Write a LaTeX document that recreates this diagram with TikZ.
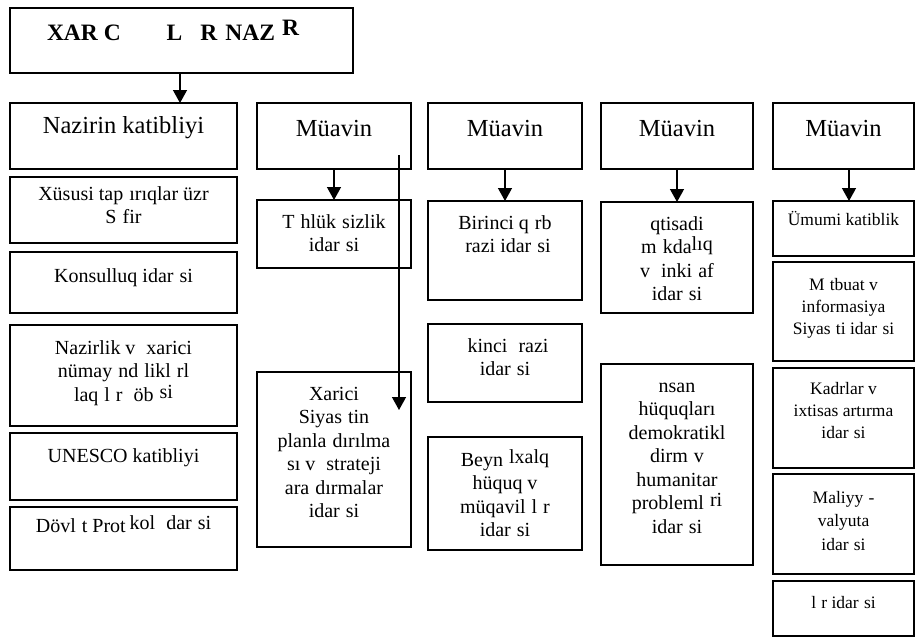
\documentclass[tikz,border=0pt]{standalone}
\usepackage{fontspec}
\setmainfont{Liberation Serif}
\usetikzlibrary{arrows.meta}
\newcommand\gp{\hspace{0.3em}}
\newcommand\up[1]{\raisebox{3pt}{#1}}
\newcommand\hd{\fontsize{24.5}{28}\selectfont}
\newcommand\sm{\fontsize{20}{23.5}\selectfont}
\newcommand\rs{\fontsize{17.5}{22}\selectfont}
\newcommand\rsw{\fontsize{17.5}{23.5}\selectfont}
% name, x1, y1, x2, y2, first baseline, font, text
\newcommand\obox[8]{%
  \node[obox, anchor=north west] (#1) at (#2,#3)
    {\parbox[b][\dimexpr#5pt-#3pt\relax][t]{\dimexpr#4pt-#2pt\relax}{\centering#7\rule{0pt}{#6pt}#8}};}
\tikzset{
  obox/.style={draw, line width=1.4pt, inner sep=0pt, outer sep=0pt},
  arr/.style={line width=1.4pt, -{Triangle[width=14pt,length=13pt]}}
}
\begin{document}
\begin{tikzpicture}[x=1pt,y=-1pt]
\useasboundingbox (0,0) rectangle (916,637);
% title
\node[obox, anchor=north west] (title) at (10,8)
  {\parbox[b][65pt][t]{343pt}{\raggedright\hspace*{37pt}\rule{0pt}{32pt}\fontsize{23.5}{26}\selectfont\bfseries XAR C\hspace{46pt}L\hspace{18pt}R\hspace{8pt}NAZ\hspace{7pt}\raisebox{5pt}{R}}};
% row of heads
\obox{nk}{10}{103}{237}{169}{30}{\hd}{Nazirin katibliyi}
\obox{m1}{257}{103}{411}{169}{33}{\hd}{Müavin}
\obox{m2}{428}{103}{582}{169}{33}{\hd}{Müavin}
\obox{m3}{601}{103}{753}{169}{33}{\hd}{Müavin}
\obox{m4}{773}{103}{914}{169}{33}{\hd}{Müavin}
% left column
\obox{xs}{10}{177}{237}{243}{23}{\sm}{Xüsusi tap\gp ırıqlar üzr\\S\gp fir}
\obox{ks}{10}{252}{237}{313}{30}{\sm}{Konsulluq idar\gp si}
\obox{nz}{10}{325}{237}{426}{29}{\sm}{Nazirlik v\gp\ xarici\\nümay\gp nd\gp likl\gp rl\\laq\gp l\gp r\gp\ öb\gp\up{si}}
\obox{un}{10}{433}{237}{500}{29}{\sm}{UNESCO katibliyi}
\obox{dv}{10}{507}{237}{570}{25}{\sm}{Dövl\gp t Prot\hspace{0.2em}\up{kol\ \gp dar\gp si}}
% column 1
\obox{th}{257}{200}{411}{268}{28}{\sm}{T\gp hlük\gp sizlik\\idar\gp si}
\obox{xr}{257}{372}{411}{547}{28}{\sm}{Xarici\\Siyas\gp tin\\planla\gp dırılma\\sı v\gp\ strateji\\ara\gp dırmalar\\idar\gp si}
% column 2
\obox{bq}{428}{201}{582}{300}{28}{\sm}{Birinci q\gp rb\\\gp razi idar\gp si}
\obox{ik}{428}{324}{582}{402}{28}{\sm}{\gp kinci\gp\ razi\\idar\gp si}
\obox{bx}{428}{437}{582}{550}{29}{\sm}{Beyn\gp\up{lxalq}\\hüquq v\gp\\müqavil\gp l\gp r\\idar\gp si}
% column 3
\obox{iq}{601}{202}{753}{313}{28}{\sm}{qtisadi\\m\gp kda\up{lıq}\\v\gp\ inki\gp af\\idar\gp si}
\obox{in}{601}{364}{753}{565}{28}{\sm}{nsan\\hüquqları\\demokratikl\\dirm\gp v\\humanitar\\probleml\gp\up{ri}\\idar\gp si}
% column 4
\obox{um}{773}{201}{914}{256}{24}{\rs}{Ümumi katiblik}
\obox{mt}{773}{262}{914}{361}{28}{\rs}{M\gp tbuat v\\informasiya\\Siyas\gp ti idar\gp si}
\obox{kd}{773}{368}{914}{468}{26}{\rs}{Kadrlar v\\ixtisas artırma\\idar\gp si}
\obox{ml}{773}{474}{914}{574}{29}{\rsw}{Maliyy\gp -\\valyuta\\idar\gp si}
\obox{il}{773}{581}{914}{636}{27}{\rs}{l\gp r idar\gp si}
% connectors
\coordinate (t0) at (180,0);
\coordinate (a4) at (849,0);
\coordinate (la1) at (399,155);
\coordinate (la2) at (399,410);
\draw[arr] (title.south -| t0) -- (nk.north -| t0);
\draw[arr] (m1.south) -- (th.north);
\draw[arr] (m2.south) -- (bq.north);
\draw[arr] (m3.south) -- (iq.north);
\draw[arr] (m4.south -| a4) -- (um.north -| a4);
\draw[arr] (la1) -- (la2);
\end{tikzpicture}
\end{document}
